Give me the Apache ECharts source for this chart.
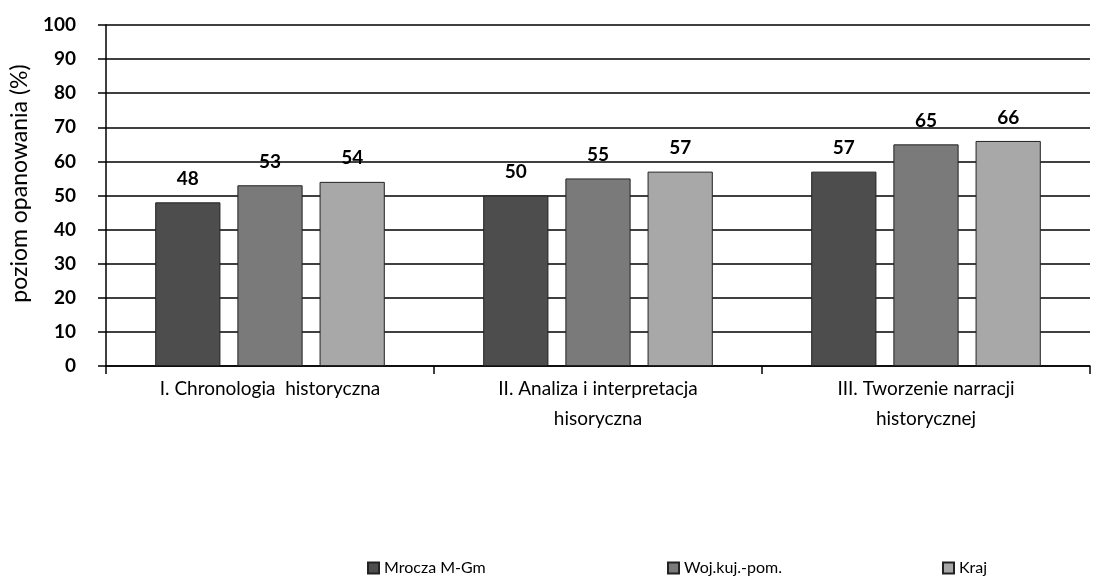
<!DOCTYPE html>
<html><head><meta charset="utf-8">
<script src="https://cdn.jsdelivr.net/npm/echarts@6/dist/echarts.min.js"></script>
<style>html,body{margin:0;padding:0;background:#fff}#c{width:1098px;height:587px}</style>
</head><body><div id="c"></div>
<script>
const categories = ["I. Chronologia  historyczna", "II. Analiza i interpretacja\nhisoryczna", "III. Tworzenie narracji\nhistorycznej"];
const seriesNames = ["Mrocza M-Gm", "Woj.kuj.-pom.", "Kraj"];
const mrocza = [48, 50, 57];
const woj = [53, 55, 65];
const kraj = [54, 57, 66];
const yTicks = [0, 10, 20, 30, 40, 50, 60, 70, 80, 90, 100];

const colors = ["#4d4d4d", "#7a7a7a", "#a8a8a8"];
const font = "Lato, 'Open Sans', sans-serif";
const chart = echarts.init(document.getElementById('c'));
function mk(name, data, color) {
  return {
    name, type: 'bar', data,
    barGap: '26%', barCategoryGap: '30%',
    itemStyle: { color, borderColor: '#222', borderWidth: 1 },
    label: { show: true, position: 'top', distance: 14, color: '#000', fontWeight: 'bold', fontSize: 19, fontFamily: font }
  };
}
const legStyle = { fontSize: 16, fontFamily: font, color: '#000' };
chart.setOption({
  animation: false,
  grid: { left: 106, right: 8, top: 25, bottom: 221, containLabel: false, outerBoundsMode: 'none' },
  legend: [
    { data: [seriesNames[0]], left: 362, top: 555, icon: 'rect', itemWidth: 11, itemHeight: 11, itemGap: 4, textStyle: legStyle },
    { data: [seriesNames[1]], left: 662, top: 555, icon: 'rect', itemWidth: 11, itemHeight: 11, textStyle: legStyle },
    { data: [seriesNames[2]], left: 937, top: 555, icon: 'rect', itemWidth: 11, itemHeight: 11, textStyle: legStyle }
  ],
  xAxis: {
    type: 'category', data: categories,
    axisLine: { lineStyle: { color: '#000', width: 1.5 } },
    axisTick: { show: true, length: 8, lineStyle: { color: '#000', width: 1.5 } },
    axisLabel: { color: '#000', fontSize: 19, fontFamily: font, lineHeight: 30, margin: 8, interval: 0 }
  },
  yAxis: {
    type: 'value', min: 0, max: 100, interval: 10,
    name: 'poziom opanowania (%)', nameLocation: 'middle', nameGap: 75, nameRotate: 90,
    nameTextStyle: { color: '#000', fontSize: 23, fontFamily: font, padding: [0, 0, 0, 24] },
    axisLine: { show: true, lineStyle: { color: '#000', width: 1.5 } },
    axisTick: { show: true, length: 8, lineStyle: { color: '#000', width: 1.5 } },
    axisLabel: { color: '#000', fontSize: 19, fontWeight: 'bold', fontFamily: font, margin: 30,
      formatter: v => yTicks.includes(v) ? String(v) : '' },
    splitLine: { show: true, lineStyle: { color: '#000', width: 1.5 } }
  },
  series: [mk(seriesNames[0], mrocza, colors[0]), mk(seriesNames[1], woj, colors[1]), mk(seriesNames[2], kraj, colors[2])]
});
</script></body></html>
